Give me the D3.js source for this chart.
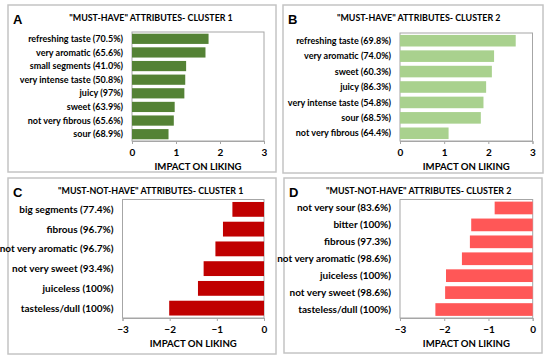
<!DOCTYPE html>
<html>
<head>
<meta charset="utf-8">
<script src="https://cdn.jsdelivr.net/npm/d3@7"></script>
<style>
  body { margin: 0; background: #fff; }
  text { font-family: Lato, "Liberation Sans", sans-serif; font-weight: bold; fill: #000; }
</style>
</head>
<body>
<svg id="chart" width="550" height="360"></svg>
<script>
// panel A - must-have, cluster 1
var catsA = ["refreshing taste (70.5%)", "very aromatic (65.6%)", "small segments (41.0%)",
  "very intense taste (50.8%)", "juicy (97%)", "sweet (63.9%)", "not very fibrous (65.6%)", "sour (68.9%)"];
var valsA = [1.74, 1.67, 1.23, 1.21, 1.19, 0.97, 0.95, 0.83];

// panel B - must-have, cluster 2
var catsB = ["refreshing taste (69.8%)", "very aromatic (74.0%)", "sweet (60.3%)", "juicy (86.3%)",
  "very intense taste (54.8%)", "sour (68.5%)", "not very fibrous (64.4%)"];
var valsB = [2.62, 2.13, 2.08, 1.95, 1.89, 1.83, 1.10];

// panel C - must-not-have, cluster 1
var catsC = ["big segments (77.4%)", "fibrous (96.7%)", "not very aromatic (96.7%)",
  "not very sweet (93.4%)", "juiceless (100%)", "tasteless/dull (100%)"];
var valsC = [-0.67, -0.87, -1.03, -1.28, -1.40, -2.01];

// panel D - must-not-have, cluster 2
var catsD = ["not very sour (83.6%)", "bitter (100%)", "fibrous (97.3%)", "not very aromatic (98.6%)",
  "juiceless (100%)", "not very sweet (98.6%)", "tasteless/dull (100%)"];
var valsD = [-0.86, -1.39, -1.42, -1.60, -1.96, -1.98, -2.20];

var ticksPos = [0, 1, 2, 3];
var ticksNeg = [-3, -2, -1, 0];
var axisTitle = "IMPACT ON LIKING";

var panels = [
  {letter: "A", title: '"MUST-HAVE" ATTRIBUTES- CLUSTER 1', cats: catsA, vals: valsA, domain: [0, 3], ticks: ticksPos,
   color: "#548235", frame: [8, 5, 268, 167], plot: [132, 32, 264, 141], lab: 9, tx: 151},
  {letter: "B", title: '"MUST-HAVE" ATTRIBUTES- CLUSTER 2', cats: catsB, vals: valsB, domain: [0, 3], ticks: ticksPos,
   color: "#a9d18e", frame: [283, 5, 260, 168], plot: [400, 33, 532.5, 141], lab: 9, tx: 418.7},
  {letter: "C", title: '"MUST-NOT-HAVE" ATTRIBUTES- CLUSTER 1', cats: catsC, vals: valsC, domain: [-3, 0], ticks: ticksNeg,
   color: "#c00000", frame: [8, 178, 268, 176], plot: [122.5, 199.5, 264, 318], lab: 10, tx: 150.7},
  {letter: "D", title: '"MUST-NOT-HAVE" ATTRIBUTES- CLUSTER 2', cats: catsD, vals: valsD, domain: [-3, 0], ticks: ticksNeg,
   color: "#ff5757", frame: [284, 178, 258, 175], plot: [400, 199.5, 532.7, 318], lab: 10, tx: 418.7}
];

var svg = d3.select("#chart");

panels.forEach(function(p) {
    var g = svg.append("g");
    var f = p.frame;
    g.append("rect")
        .attr("x", f[0]).attr("y", f[1])
        .attr("width", f[2]).attr("height", f[3])
        .attr("fill", "#fff")
        .attr("stroke", "#c4c4c4")
        .attr("stroke-width", 1.5);

    var x = d3.scaleLinear().domain(p.domain).range([p.plot[0], p.plot[2]]);
    var y = d3.scaleBand().domain(p.cats).range([p.plot[1], p.plot[3]])
        .paddingInner(0.25).paddingOuter(0.125);

    g.append("rect")
        .attr("x", p.plot[0]).attr("y", p.plot[1])
        .attr("width", p.plot[2] - p.plot[0]).attr("height", p.plot[3] - p.plot[1])
        .attr("fill", "none")
        .attr("stroke", "#a6a6a6")
        .attr("stroke-width", 1);

    g.selectAll("rect.bar").data(p.vals).enter()
        .append("rect")
        .attr("class", "bar")
        .attr("x", function(d) { return x(Math.min(0, d)); })
        .attr("y", function(d, i) { return y(p.cats[i]); })
        .attr("width", function(d) { return Math.abs(x(d) - x(0)); })
        .attr("height", y.bandwidth())
        .attr("fill", p.color);

    var ax = d3.axisBottom(x).tickValues(p.ticks).tickSize(3).tickPadding(5).tickFormat(d3.format("d"));
    var axG = g.append("g")
        .attr("transform", "translate(0," + p.plot[3] + ")")
        .call(ax);
    axG.select(".domain").attr("stroke", "#a6a6a6");
    axG.selectAll(".tick line").attr("stroke", "#a6a6a6");
    axG.selectAll(".tick text")
        .style("font-size", "10px")
        .style("font-family", "Lato, sans-serif")
        .style("font-weight", "bold")
        .attr("fill", "#000");

    g.selectAll("text.cat").data(p.cats).enter()
        .append("text")
        .attr("class", "cat")
        .attr("x", p.plot[0] - 9)
        .attr("y", function(d) { return y(d) + y.bandwidth() / 2; })
        .attr("dy", "0.35em")
        .attr("text-anchor", "end")
        .style("font-size", p.lab + "px")
        .text(function(d) { return d; });

    g.append("text")
        .attr("x", (p.plot[0] + p.plot[2]) / 2)
        .attr("y", p.plot[3] + 29)
        .attr("text-anchor", "middle")
        .style("font-size", "9.6px")
        .text(axisTitle);

    g.append("text")
        .attr("x", p.tx)
        .attr("y", f[1] + 15.5)
        .attr("text-anchor", "middle")
        .style("font-size", "8.9px")
        .text(p.title);

    g.append("text")
        .attr("x", f[0] + 5)
        .attr("y", f[1] + 18.5)
        .style("font-family", "'Liberation Sans', Arial, sans-serif")
        .style("font-size", "13px")
        .text(p.letter);
});
</script>
</body>
</html>
